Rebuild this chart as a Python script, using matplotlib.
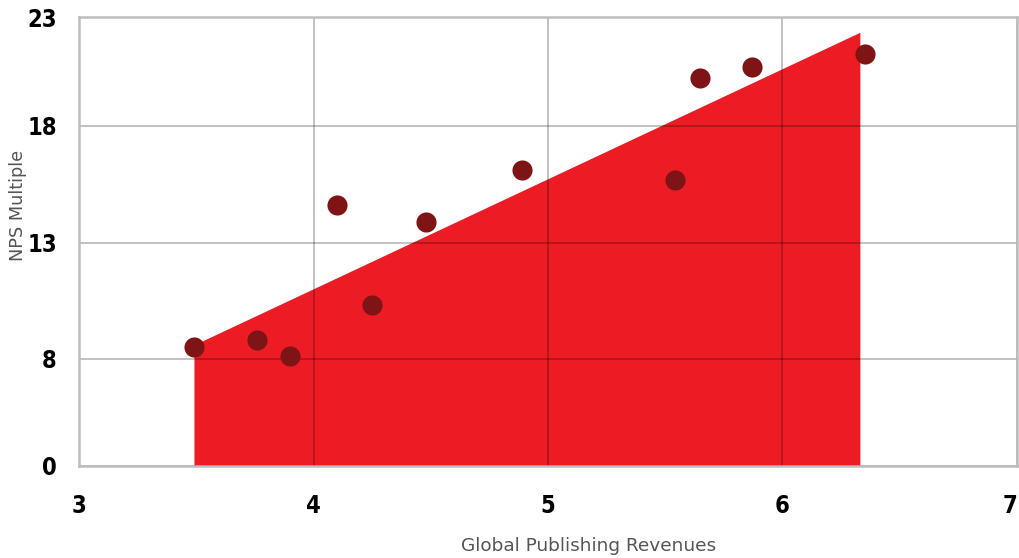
import matplotlib
matplotlib.use("Agg")
from matplotlib import pyplot as plt
import numpy as np

# data
revenues = [3.49, 3.76, 3.90, 4.10, 4.25, 4.48, 4.89, 5.54, 5.65, 5.87, 6.35]
nps = [8.5, 8.8, 8.1, 14.6, 10.3, 13.9, 16.1, 15.7, 20.2, 20.7, 21.3]

trend_x = [3.49, 6.33]
trend_y = [8.6, 22.3]

x_ticks = [3, 4, 5, 6, 7]
y_ticks = [0, 8, 13, 18, 23]

# the y ticks sit almost evenly on the chart, so use a piecewise scale
y_pos = [0, 0.955, 1.99, 3.03, 4.0]

def fwd(v):
    return np.interp(v, y_ticks, y_pos)

def inv(p):
    return np.interp(p, y_pos, y_ticks)

fig = plt.figure(figsize=(10.2, 5.58), dpi=100)
ax = fig.add_axes([0.0775, 0.165, 0.9195, 0.8045])
ax.set_yscale("function", functions=(fwd, inv))

ax.fill_between(trend_x, [0, 0], trend_y, color="#ED1C24", lw=0, zorder=1)
ax.scatter(revenues, nps, s=210, color="#7E1416", zorder=3, lw=0)

ax.set_xlim(3, 7)
ax.set_ylim(0, 23)
ax.set_xticks(x_ticks)
ax.set_yticks(y_ticks)
# black with low alpha: light gray on white, dark red on the fill
ax.grid(True, color="black", lw=1.3, alpha=0.26, zorder=2)
ax.set_axisbelow(False)

for s in ax.spines.values():
    s.set_color("#bdbdbd")
    s.set_linewidth(1.8)
    s.set_zorder(2.6)

tick_font = dict(family="DejaVu Sans", stretch="condensed", weight="bold", size=17)
ax.tick_params(length=0, pad=0)
ax.set_xticklabels([str(t) for t in x_ticks], **tick_font)
ax.set_yticklabels([str(t) for t in y_ticks], **tick_font)
ax.tick_params(axis="x", pad=20)
ax.tick_params(axis="y", pad=16)
ax.get_xticklabels()[-1].set_horizontalalignment("right")

ax.set_xlabel("Global Publishing Revenues", color="#555555", fontsize=13.3)
ax.set_ylabel("NPS Multiple", color="#555555", fontsize=12.8)
ax.xaxis.set_label_coords(0.543, -0.158)
ax.yaxis.set_label_coords(-0.055, 0.58)

plt.savefig("out.png", dpi=100)
